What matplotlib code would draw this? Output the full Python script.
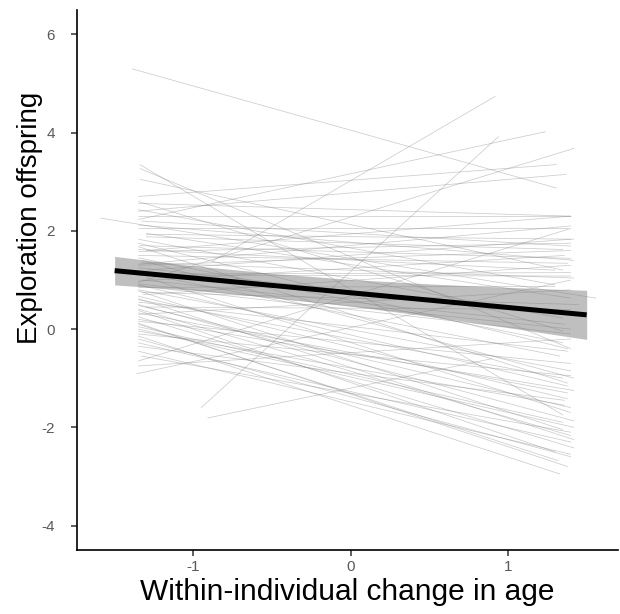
import matplotlib
matplotlib.use("Agg")
import matplotlib.pyplot as plt

plt.rcParams['font.family'] = ['Liberation Sans', 'DejaVu Sans']
plt.rcParams['axes.unicode_minus'] = False

# individual slopes: start x, start y, end x, end y
x_start = [-1.39, -0.95, -0.88, -1.34, -1.34, -1.34, -1.35, -1.35, -1.35, -1.35,
           -1.35, -1.35, -1.59, -1.35, -1.35, -1.33, -1.35, -1.30, -1.35, -1.30,
           -1.34, -1.30, -1.35, -1.35, -1.33, -1.35, -1.30, -1.35, -1.35, -1.32,
           -1.35, -1.35, -1.35, -1.33, -1.35, -1.35, -1.30, -1.35, -1.35, -1.35,
           -1.35, -1.35, -1.35, -1.35, -1.35, -1.35, -1.36, -0.91, -1.30, -1.35,
           -1.35, -1.33, -1.35, -1.30, -1.35, -1.35, -1.35, -1.32, -1.35, -1.35,
           -1.35, -1.35, -1.35, -1.35, -1.35, -1.35, -1.35, -1.35, -1.35, -1.33,
           -1.35, -1.35, -1.35, -1.35, -1.35, -1.30, -1.35, -1.35, -1.35, -1.35]
y_start = [5.30, -1.60, 1.38, 3.35, 3.27, 3.05, 2.23, 2.70, 2.40, 2.30,
           2.60, 2.56, 2.26, 2.43, 1.83, 2.20, 2.05, 1.93, 1.75, 1.60,
           1.70, 1.95, 1.50, 1.45, 1.35, 1.30, 1.20, 1.15, 1.10, 1.00,
           0.95, 0.90, 0.85, 0.75, 0.80, 0.67, 0.45, 0.60, 0.50, 0.41,
           0.33, 0.25, 0.16, 0.10, 0.00, -0.04, -0.91, -1.81, 1.05, -0.14,
           -0.28, 1.40, -0.45, 1.12, -0.65, 1.62, 1.25, 0.70, 0.98, 0.88,
           0.78, 0.62, 0.55, 0.48, 0.38, 0.30, 0.20, 0.12, 0.05, -0.55,
           -0.10, -0.20, -0.35, -0.75, 1.58, 1.88, 2.12, 1.32, 0.92, 1.68]
x_end = [1.31, 0.94, 0.92, 1.35, 1.40, 1.35, 1.24, 1.31, 1.37, 1.40,
         1.35, 1.40, 1.56, 1.30, 1.35, 1.40, 1.38, 1.42, 1.38, 1.40,
         1.40, 1.40, 1.38, 1.35, 1.42, 1.40, 1.40, 1.33, 1.40, 1.36,
         1.42, 1.38, 1.30, 1.45, 1.40, 1.38, 1.40, 1.35, 1.42, 1.40,
         1.38, 1.42, 1.40, 1.32, 1.42, 1.36, 1.40, 0.90, 1.40, 1.33,
         1.40, 1.42, 1.40, 1.40, 1.40, 1.30, 1.38, 1.40, 1.36, 1.40,
         1.35, 1.42, 1.38, 1.40, 1.30, 1.40, 1.42, 1.38, 1.35, 1.40,
         1.40, 1.40, 1.36, 1.40, 1.40, 1.35, 1.42, 1.40, 1.40, 1.38]
y_end = [2.87, 3.92, 4.74, -1.75, -0.40, 1.20, 4.02, 3.35, 3.15, 2.30,
         -0.04, 2.30, 0.63, 0.90, 0.22, 1.69, 2.05, 1.83, -0.40, 2.30,
         1.44, 0.63, 1.34, -0.28, 1.04, 1.60, 1.83, -0.55, 1.08, 0.10,
         3.68, -1.16, 0.87, 0.50, -0.85, -1.42, 0.40, -1.00, -1.87, -2.17,
         -1.30, -2.42, -0.70, -2.68, -2.00, -1.55, 1.00, -0.60, -1.70, -2.95,
         -2.30, -1.00, -2.55, 1.15, 2.05, 1.20, 0.30, 1.30, 1.50, -0.10,
         -2.05, -2.25, -0.45, -1.60, -2.50, 0.80, -1.25, -2.80, -1.90, -2.10,
         -0.95, -2.60, -1.45, -0.20, 1.75, 1.62, 1.40, 2.10, 0.00, -1.10]

# population-level fit and confidence band
fit_x = [-1.5, -1.0, -0.5, 0.0, 0.5, 1.0, 1.5]
fit_y = [1.19, 1.04, 0.89, 0.74, 0.59, 0.44, 0.29]
band_lo = [0.90, 0.79, 0.645, 0.47, 0.26, 0.03, -0.21]
band_hi = [1.48, 1.29, 1.135, 1.01, 0.92, 0.85, 0.79]

fig = plt.figure(figsize=(6.2, 6.14), dpi=100)
ax = fig.add_axes([0.124, 0.104, 0.873, 0.88])

for i in range(len(x_start)):
    ax.plot([x_start[i], x_end[i]], [y_start[i], y_end[i]],
            color="0.5", alpha=0.4, lw=0.55, solid_capstyle="butt")

ax.fill_between(fit_x, band_lo, band_hi, color="0.6", alpha=0.62, lw=0)
ax.plot(fit_x, fit_y, color="black", lw=3.6, solid_capstyle="butt")

ax.set_xlim(-1.74, 1.70)
ax.set_ylim(-4.5, 6.5)
ax.set_xticks([-1, 0, 1])
ax.set_yticks([-4, -2, 0, 2, 4, 6])

for s in ["top", "right"]:
    ax.spines[s].set_visible(False)
for s in ["left", "bottom"]:
    ax.spines[s].set_linewidth(1.2)
ax.tick_params(length=4, width=1.1, color="0.2", labelcolor="0.35", labelsize=11)
ax.tick_params(axis="y", pad=12)
ax.tick_params(axis="x", pad=3)

ax.set_xlabel("Within-individual change in age", fontsize=21.5, labelpad=3)
ax.set_ylabel("Exploration offspring", fontsize=20)
ax.yaxis.set_label_coords(-0.062, 0.615)

fig.savefig("out.png")
